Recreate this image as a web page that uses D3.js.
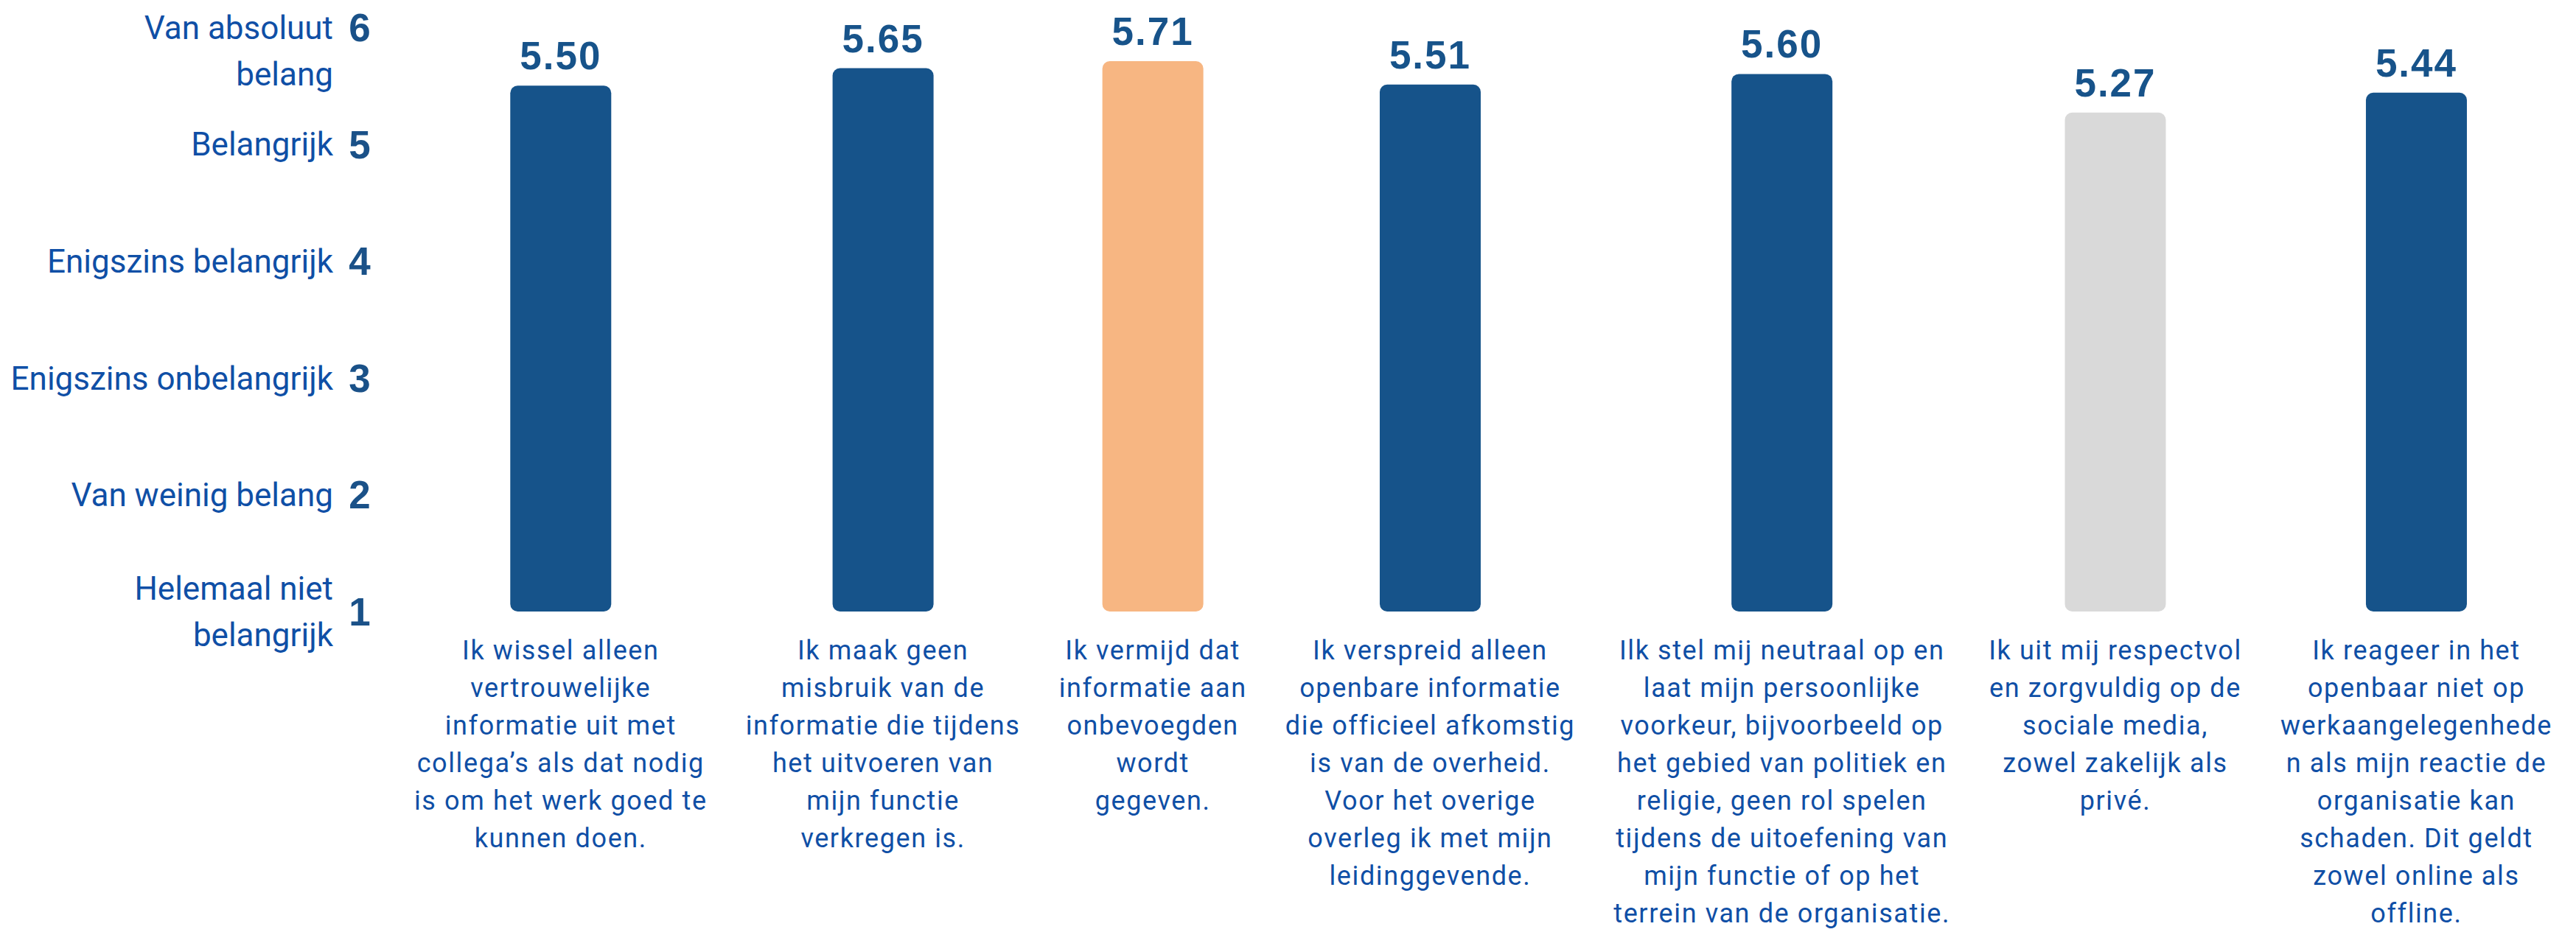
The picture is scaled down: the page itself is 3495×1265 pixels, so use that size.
<!DOCTYPE html>
<html>
<head>
<meta charset="utf-8">
<script src="https://cdn.jsdelivr.net/npm/d3@7"></script>
<style>
  html, body { margin: 0; padding: 0; background: #ffffff; }
  svg { display: block; }
  .cat { font-family: Roboto, "Noto Sans", sans-serif; font-size: 36px; fill: #0f4fa6; letter-spacing: 1.6px; }
  .ylab { font-family: Roboto, "Noto Sans", sans-serif; font-size: 44px; fill: #0f4fa6; }
  .ynum { font-family: "Liberation Sans", Arial, sans-serif; font-weight: bold; font-size: 53px; fill: #1a5188; }
  .val { font-family: "Liberation Sans", Arial, sans-serif; font-weight: bold; font-size: 53px; fill: #17538a; letter-spacing: 2px; }
</style>
</head>
<body>
<svg id="chart" width="3495" height="1265"></svg>
<script>
// ---------------- data ----------------
const categories = ["wissel", "misbruik", "vermijd", "verspreid", "neutraal", "respectvol", "reageer"];
const values = [5.50, 5.65, 5.71, 5.51, 5.60, 5.27, 5.44];
const categoryLabels = [
  ["Ik wissel alleen", "vertrouwelijke", "informatie uit met", "collega’s als dat nodig", "is om het werk goed te", "kunnen doen."],
  ["Ik maak geen", "misbruik van de", "informatie die tijdens", "het uitvoeren van", "mijn functie", "verkregen is."],
  ["Ik vermijd dat", "informatie aan", "onbevoegden", "wordt", "gegeven."],
  ["Ik verspreid alleen", "openbare informatie", "die officieel afkomstig", "is van de overheid.", "Voor het overige", "overleg ik met mijn", "leidinggevende."],
  ["Ilk stel mij neutraal op en", "laat mijn persoonlijke", "voorkeur, bijvoorbeeld op", "het gebied van politiek en", "religie, geen rol spelen", "tijdens de uitoefening van", "mijn functie of op het", "terrein van de organisatie."],
  ["Ik uit mij respectvol", "en zorgvuldig op de", "sociale media,", "zowel zakelijk als", "privé."],
  ["Ik reageer in het", "openbaar niet op", "werkaangelegenhede", "n als mijn reactie de", "organisatie kan", "schaden. Dit geldt", "zowel online als", "offline."]
];
const tickValues = [1, 2, 3, 4, 5, 6];
const tickLabels = [
  ["Helemaal niet", "belangrijk"],
  ["Van weinig belang"],
  ["Enigszins onbelangrijk"],
  ["Enigszins belangrijk"],
  ["Belangrijk"],
  ["Van absoluut", "belang"]
];

// ---------------- layout ----------------
const baseY = 830, topY = 37;
const barWidth = 137;
const labelLeft = 562, labelRight = 3463;
const catLineHeight = 51, catFirstOffset = 65;
const yLineHeight = 63;
const colors = { normal: "#16538a", high: "#f7b682", low: "#d9d9d9" };

const svg = d3.select("#chart");

const y = d3.scaleLinear().domain([1, 6]).range([baseY, topY]);

// column widths follow the width of each wrapped label
const measure = svg.append("g").attr("visibility", "hidden");
const colWidths = categoryLabels.map(lines => d3.max(lines, l => {
  const t = measure.append("text").attr("class", "cat").text(l);
  const w = t.node().getComputedTextLength();
  t.remove();
  return w;
}));
measure.remove();
const gap = (labelRight - labelLeft - d3.sum(colWidths)) / (categories.length - 1);
const centers = [];
let acc = labelLeft;
colWidths.forEach(w => { centers.push(acc + w / 2); acc += w + gap; });
const x = d3.scaleOrdinal().domain(categories).range(centers);

const vMax = d3.max(values), vMin = d3.min(values);
const colorOf = v => v === vMax ? colors.high : (v === vMin ? colors.low : colors.normal);

const data = categories.map((c, i) => ({ c, v: values[i], lines: categoryLabels[i] }));

// ---------------- bars ----------------
svg.append("g").selectAll("rect").data(data).join("rect")
  .attr("x", d => x(d.c) - barWidth / 2)
  .attr("width", barWidth)
  .attr("y", d => y(d.v))
  .attr("height", d => y(1) - y(d.v))
  .attr("rx", 10).attr("ry", 10)
  .attr("fill", d => colorOf(d.v));

// value labels
svg.append("g").selectAll("text").data(data).join("text")
  .attr("class", "val")
  .attr("text-anchor", "middle")
  .attr("x", d => x(d.c))
  .attr("y", d => y(d.v) - 22)
  .text(d => d3.format(".2f")(d.v));

// category labels
const cat = svg.append("g").selectAll("text").data(data).join("text")
  .attr("class", "cat")
  .attr("text-anchor", "middle")
  .attr("x", d => x(d.c))
  .attr("y", y(1) + catFirstOffset);
cat.selectAll("tspan").data(d => d.lines.map(l => ({ l, cx: x(d.c) }))).join("tspan")
  .attr("x", t => t.cx)
  .attr("dy", (t, i) => i === 0 ? 0 : catLineHeight)
  .text(t => t.l);

// ---------------- y axis (labels + numbers) ----------------
const yAxis = svg.append("g");
tickValues.forEach((tv, i) => {
  const cy = y(tv);
  yAxis.append("text").attr("class", "ynum")
    .attr("text-anchor", "middle")
    .attr("x", 488).attr("y", cy).attr("dy", "0.36em")
    .text(tv);
  const lines = tickLabels[i];
  let first = cy - (lines.length - 1) / 2 * yLineHeight;
  if (first < topY) first = topY;          // keep top label inside the frame
  const t = yAxis.append("text").attr("class", "ylab").attr("text-anchor", "end");
  lines.forEach((l, j) => {
    t.append("tspan").attr("x", 452).attr("y", first + j * yLineHeight).attr("dy", "0.36em").text(l);
  });
});
</script>
</body>
</html>
